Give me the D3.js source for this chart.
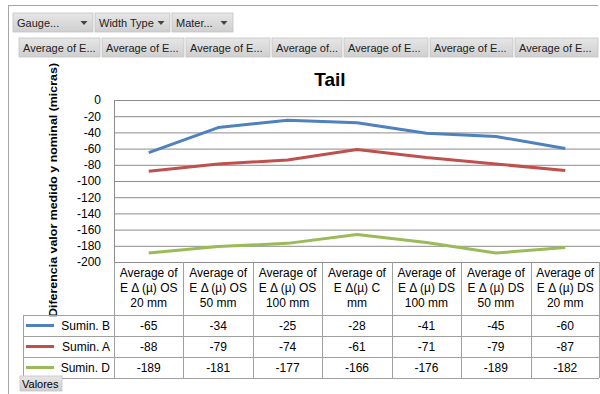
<!DOCTYPE html>
<html>
<head>
<meta charset="utf-8">
<script src="https://cdn.jsdelivr.net/npm/d3@7"></script>
<style>
  html, body { margin: 0; padding: 0; background: #fff; }
  svg { display: block; font-family: "Liberation Sans", Arial, sans-serif; }
</style>
</head>
<body>
<svg id="chart" width="600" height="394"></svg>
<script>
// ---- data ----
const categories = [
  ["Average of", "E \u0394 (\u00b5) OS", "20 mm"],
  ["Average of", "E \u0394 (\u00b5) OS", "50 mm"],
  ["Average of", "E \u0394 (\u00b5) OS", "100 mm"],
  ["Average of", "E \u0394(\u00b5) C", "mm"],
  ["Average of", "E \u0394 (\u00b5) DS", "100 mm"],
  ["Average of", "E \u0394 (\u00b5) DS", "50 mm"],
  ["Average of", "E \u0394 (\u00b5) DS", "20 mm"]
];
const seriesNames = ["Sumin. B", "Sumin. A", "Sumin. D"];
const suminB = [-65, -34, -25, -28, -41, -45, -60];
const suminA = [-88, -79, -74, -61, -71, -79, -87];
const suminD = [-189, -181, -177, -166, -176, -189, -182];
const seriesColors = ["#4f81bd", "#c0504d", "#9bbb59"];
const yTicks = [0, -20, -40, -60, -80, -100, -120, -140, -160, -180, -200];
const filterLabels = ["Gauge...", "Width Type", "Mater..."];
const fieldLabels = ["Average of E...", "Average of E...", "Average of E...", "Average of...",
                     "Average of E...", "Average of E...", "Average of E..."];
const chartTitle = "Tail";
const yTitle = "Diferencia valor medido y nominal (micras)";

const series = [suminB, suminA, suminD].map((vals, i) => ({
  name: seriesNames[i], color: seriesColors[i], values: vals
}));

const svg = d3.select("#chart");

// ---- frame of the pivot sheet ----
const frameColor = "#a6a6a6";
svg.append("line").attr("x1", 8.5).attr("x2", 8.5).attr("y1", 5).attr("y2", 394)
  .attr("stroke", frameColor);
svg.append("line").attr("x1", 8).attr("x2", 598).attr("y1", 5.5).attr("y2", 5.5)
  .attr("stroke", frameColor);

// gradient for field buttons
const defs = svg.append("defs");
const grad = defs.append("linearGradient").attr("id", "btn").attr("x1", 0).attr("y1", 0).attr("x2", 0).attr("y2", 1);
grad.append("stop").attr("offset", "0%").attr("stop-color", "#e6e6e6");
grad.append("stop").attr("offset", "100%").attr("stop-color", "#cfcfcf");

function button(x, y, w, h, label, arrow) {
  const g = svg.append("g").attr("transform", `translate(${x},${y})`);
  g.append("rect").attr("width", w).attr("height", h).attr("fill", "url(#btn)")
    .attr("stroke", "#c4c4c4").attr("stroke-width", 0.8);
  g.append("text").attr("x", 4).attr("y", h / 2 + 4).attr("font-size", 11).attr("fill", "#222")
    .text(label);
  if (arrow) {
    const ax = w - 9, ay = h / 2 - 1.5;
    g.append("path").attr("d", `M${ax - 3.5},${ay} L${ax + 3.5},${ay} L${ax},${ay + 4} Z`).attr("fill", "#444");
  }
}

// filter buttons row
const filterX = [13, 95, 172];
const filterW = [80, 75, 61];
filterLabels.forEach((t, i) => button(filterX[i], 13, filterW[i], 19, t, true));

// value field buttons row
const fieldX = [19, 102, 186, 272, 344, 430, 515];
const fieldW = [81, 82, 84, 70, 84, 83, 83];
fieldLabels.forEach((t, i) => button(fieldX[i], 38, fieldW[i], 19, t, false));

// ---- scales ----
const plot = { left: 114, right: 600, top: 100, bottom: 262 };
const x = d3.scaleBand().domain(d3.range(categories.length)).range([plot.left, plot.right]);
const y = d3.scaleLinear().domain([-200, 0]).range([plot.bottom, plot.top]);

// gridlines
const gridColor = "#8c8c8c";
const grid = svg.append("g").attr("transform", `translate(${plot.left},0)`)
  .call(d3.axisLeft(y).tickValues(yTicks).tickSize(-(plot.right - plot.left)).tickFormat(""));
grid.select(".domain").remove();
grid.selectAll(".tick line").attr("stroke", gridColor);

// y axis labels
const yAxis = svg.append("g").attr("transform", `translate(${plot.left - 13},0)`)
  .call(d3.axisLeft(y).tickValues(yTicks).tickSize(0).tickPadding(0).tickFormat(d3.format("d")));
yAxis.select(".domain").remove();
yAxis.selectAll("text").attr("font-size", 12).attr("fill", "#000")
  .attr("font-family", "Liberation Sans, Arial, sans-serif")
  .text(d => d === 0 ? "0" : "-" + Math.abs(d));

// plot left edge
svg.append("line").attr("x1", plot.left + 0.5).attr("x2", plot.left + 0.5)
  .attr("y1", plot.top).attr("y2", plot.bottom).attr("stroke", gridColor);

// title
svg.append("text").attr("x", 330).attr("y", 86).attr("text-anchor", "middle")
  .attr("font-size", 19).attr("font-weight", "bold").text(chartTitle);

// y axis title
svg.append("text").attr("transform", "translate(57,190) rotate(-90)")
  .attr("text-anchor", "middle").attr("font-size", 11.5).attr("font-weight", "bold")
  .attr("textLength", 254).attr("lengthAdjust", "spacingAndGlyphs")
  .text(yTitle);

// series lines
const line = d3.line().x((d, i) => x(i) + x.bandwidth() / 2).y(d => y(d));
svg.append("g").selectAll("path").data(series).join("path")
  .attr("d", d => line(d.values)).attr("fill", "none")
  .attr("stroke", d => d.color).attr("stroke-width", 3)
  .attr("stroke-linejoin", "round").attr("stroke-linecap", "butt");

// ---- data table ----
const tableColor = "#a0a0a0";
const headTop = plot.bottom, headBottom = 315, rowH = 21;
const tableLeft = 23;
const tableBottom = headBottom + rowH * series.length;
const tbl = svg.append("g");

// vertical separators
const bounds = d3.range(categories.length + 1).map(i => i < categories.length ? x(i) : plot.right - 1);
tbl.selectAll("line.v").data(bounds).join("line").attr("class", "v")
  .attr("x1", d => Math.round(d) + 0.5).attr("x2", d => Math.round(d) + 0.5)
  .attr("y1", headTop).attr("y2", tableBottom).attr("stroke", tableColor);
tbl.append("line").attr("x1", tableLeft + 0.5).attr("x2", tableLeft + 0.5)
  .attr("y1", headBottom).attr("y2", tableBottom).attr("stroke", tableColor);

// horizontal separators
d3.range(series.length + 1).forEach(r => {
  const yy = headBottom + r * rowH + 0.5;
  tbl.append("line").attr("x1", tableLeft).attr("x2", plot.right - 1)
    .attr("y1", yy).attr("y2", yy).attr("stroke", tableColor);
});

// category header text
categories.forEach((lines, i) => {
  const cx = x(i) + x.bandwidth() / 2;
  const t = tbl.append("text").attr("text-anchor", "middle").attr("font-size", 12).attr("fill", "#000");
  lines.forEach((ln, k) => t.append("tspan").attr("x", cx).attr("y", 277 + k * 15).text(ln));
});

// rows: legend key + values
series.forEach((s, r) => {
  const top = headBottom + r * rowH;
  const mid = top + rowH / 2;
  tbl.append("line").attr("x1", 26).attr("x2", 54).attr("y1", mid).attr("y2", mid)
    .attr("stroke", s.color).attr("stroke-width", 3);
  tbl.append("text").attr("x", 110).attr("y", mid + 4.5).attr("text-anchor", "end")
    .attr("font-size", 12).text(s.name);
  s.values.forEach((v, i) => {
    tbl.append("text").attr("x", x(i) + x.bandwidth() / 2).attr("y", mid + 4.5)
      .attr("text-anchor", "middle").attr("font-size", 12).text(v);
  });
});

// "Valores" field button
const vg = svg.append("g").attr("transform", "translate(20,376)");
vg.append("rect").attr("width", 42).attr("height", 15).attr("fill", "url(#btn)")
  .attr("stroke", "#c4c4c4").attr("stroke-width", 0.8);
vg.append("text").attr("x", 2).attr("y", 12).attr("font-size", 11).text("Valores");
</script>
</body>
</html>
